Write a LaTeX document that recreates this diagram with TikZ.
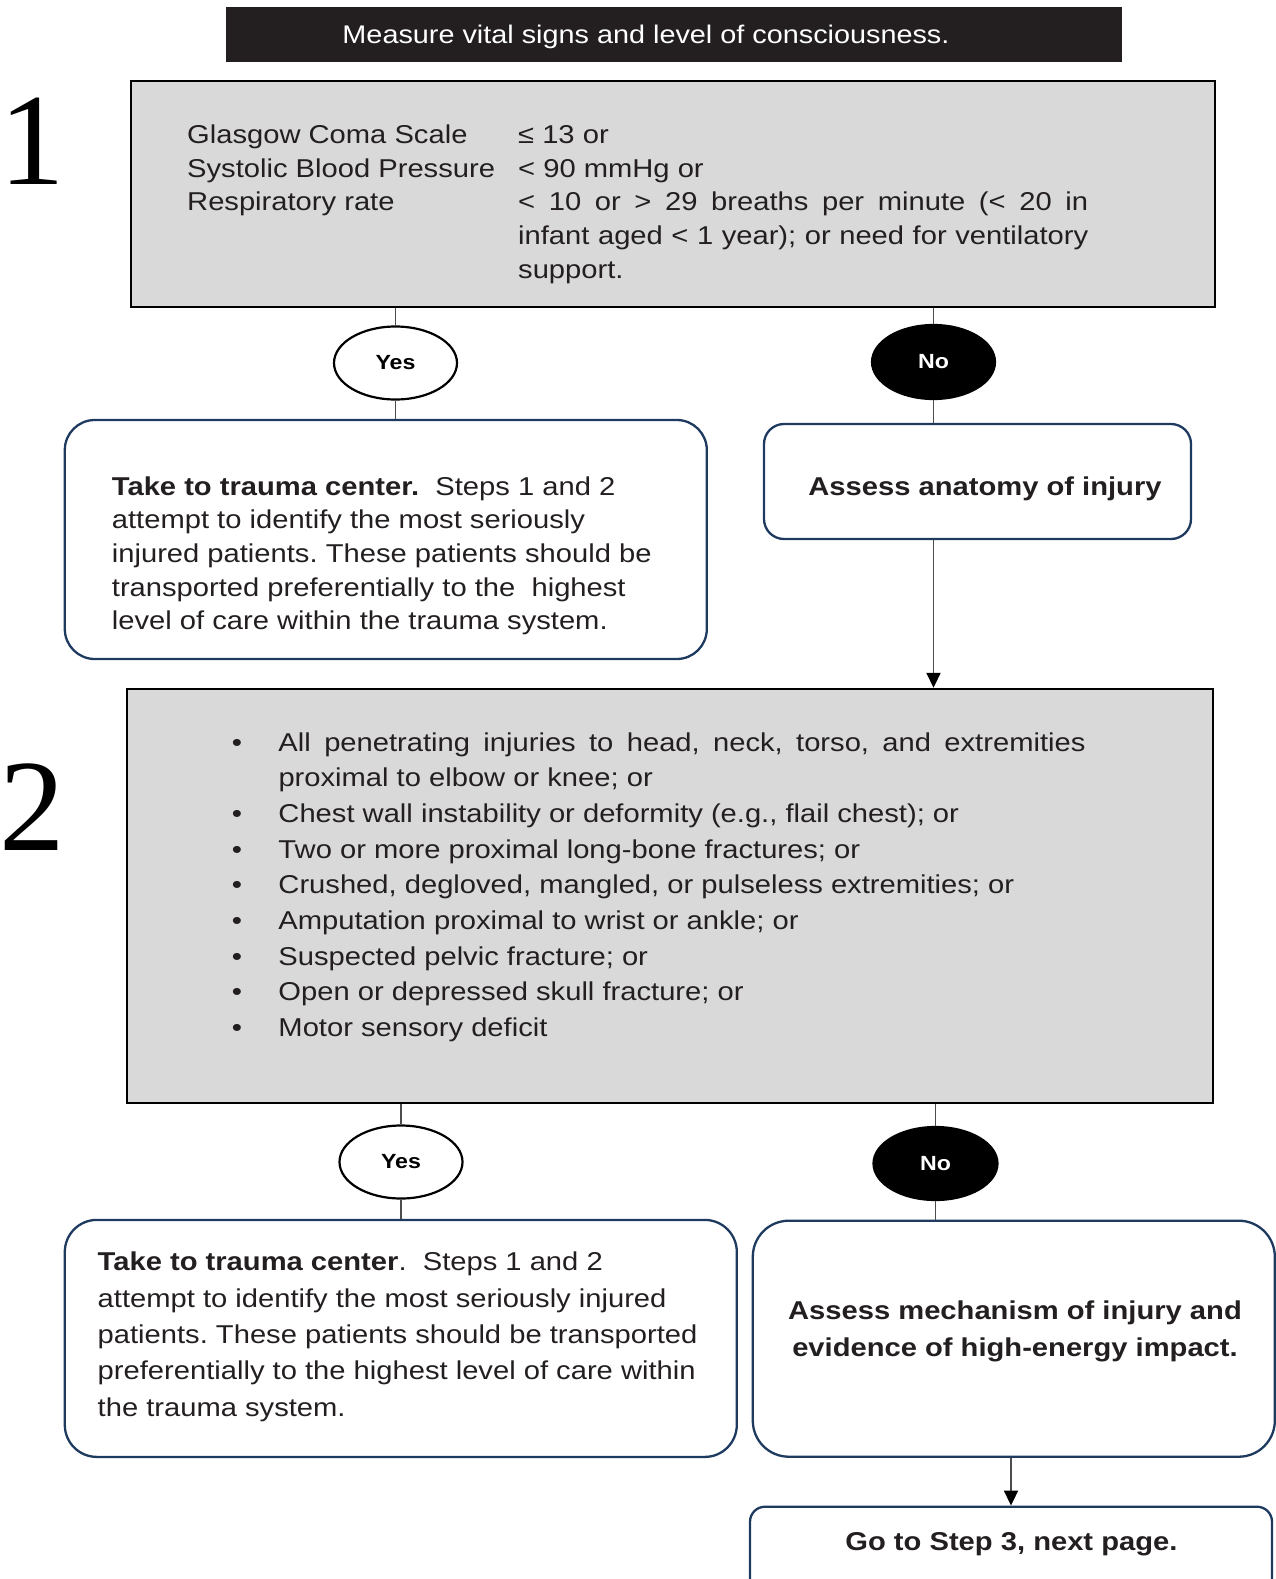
\documentclass[tikz,border=0pt]{standalone}
\usepackage{fontspec}
\setmainfont[FakeStretch=1.13]{Liberation Sans}
\newfontfamily\stepfont{Liberation Serif}
\usetikzlibrary{shapes.geometric,arrows.meta}
\definecolor{barblack}{HTML}{231F20}
\definecolor{critgrey}{HTML}{D9D9D9}
\definecolor{boxnavy}{HTML}{1F3A5F}
\definecolor{linkgrey}{HTML}{4D4D4D}
\definecolor{inkdark}{HTML}{231F20}
\frenchspacing
\newcommand{\leftrows}[1]{\begin{tabular}[t]{@{}l@{}}#1\end{tabular}}
\newcommand{\centrows}[1]{\begin{tabular}[t]{@{}c@{}}#1\end{tabular}}
\tikzset{
  headbar/.style={fill=barblack,inner sep=0pt,minimum width=896pt,minimum height=55pt},
  headtext/.style={text=white,inner sep=0pt,anchor=base,font=\fontsize{25.5}{30}\selectfont},
  critbox/.style={draw=black,fill=critgrey,line width=2.4pt,inner sep=0pt},
  bodytext/.style={text=inkdark,inner sep=0pt,anchor=base west,font=\fontsize{25.8}{33.7}\selectfont},
  listtext/.style={bodytext,font=\fontsize{25.8}{35.7}\selectfont},
  widetext/.style={bodytext,font=\fontsize{25.8}{36.4}\selectfont},
  boldtext/.style={bodytext,anchor=base,font=\fontsize{25.8}{36.7}\selectfont\bfseries},
  yes oval/.style={ellipse,draw=black,fill=white,line width=2.2pt,inner sep=0pt,
    minimum width=123pt,minimum height=73pt,font=\fontsize{20.5}{24}\selectfont\bfseries},
  no oval/.style={yes oval,fill=black,text=white},
  roundbox/.style={draw=boxnavy,line width=2.3pt,inner sep=0pt},
  link/.style={draw=linkgrey,line width=1.8pt},
  flow/.style={link,-{Triangle[length=15pt,width=14pt,color=black]}},
  stepnum/.style={inner sep=0pt,anchor=base,font=\fontsize{131}{131}\stepfont}
}
\begin{document}
\begin{tikzpicture}[x=1pt,y=-1pt]
  \useasboundingbox (0,0) rectangle (1276,1579);
  \clip (0,0) rectangle (1276,1579);
  % step 1
  \node[stepnum] (one) at (32.5,184.3) {1};
  \node[headbar] (head) at (674,34.5) {};
  \node[headtext] (headline) at (646,43.4) {Measure vital signs and level of consciousness.};
  \node[critbox,minimum width=1084pt,minimum height=226pt] (crit1) at (673,194) {};
  \node[bodytext] (vitals) at (187,143.5)
    {\leftrows{Glasgow Coma Scale\\Systolic Blood Pressure\\Respiratory rate}};
  \node[bodytext] (limits) at (518,143.5) {\leftrows{≤ 13 or\\< 90 mmHg or\\
    \makebox[570pt][s]{< 10 or > 29 breaths per minute (< 20 in}\\
    \makebox[570pt][s]{infant aged < 1 year); or need for ventilatory}\\
    support.}};
  \node[yes oval] (yes1) at (395.5,363) {Yes};
  \node[no oval,minimum height=74pt] (no1) at (933.5,362) {No};
  \node[roundbox,rounded corners=30pt,minimum width=642pt,minimum height=239pt] (take1) at (385.8,539.5) {};
  \node[bodytext] (take1text) at (111.7,495) {\leftrows{\textbf{Take to trauma center.}\ \ Steps 1 and 2\\
    attempt to identify the most seriously\\
    injured patients. These patients should be\\
    transported preferentially to the\ \ highest\\
    level of care within the trauma system.}};
  \node[roundbox,rounded corners=20pt,minimum width=427pt,minimum height=115pt] (anat) at (977.5,481.5) {};
  \node[boldtext] (anattext) at (985,495) {Assess anatomy of injury};
  % step 2
  \node[stepnum] (two) at (32.7,850) {2};
  \node[critbox,minimum width=1086pt,minimum height=414pt] (crit2) at (670,896) {};
  \node[listtext] (injuries) at (231.6,751) {\begin{tabular}[t]{@{}p{46.7pt}@{}l@{}}
    \textbullet & \makebox[807pt][s]{All penetrating injuries to head, neck, torso, and extremities}\\
      & proximal to elbow or knee; or\\
    \textbullet & Chest wall instability or deformity (e.g., flail chest); or\\
    \textbullet & Two or more proximal long-bone fractures; or\\
    \textbullet & Crushed, degloved, mangled, or pulseless extremities; or\\
    \textbullet & Amputation proximal to wrist or ankle; or\\
    \textbullet & Suspected pelvic fracture; or\\
    \textbullet & Open or depressed skull fracture; or\\
    \textbullet & Motor sensory deficit
  \end{tabular}};
  \node[yes oval] (yes2) at (401,1162) {Yes};
  \node[no oval,minimum width=124pt] (no2) at (935.5,1163.5) {No};
  \node[roundbox,rounded corners=32pt,minimum width=672pt,minimum height=237pt] (take2) at (400.8,1338.4) {};
  \node[widetext] (take2text) at (97.5,1270.7) {\leftrows{\textbf{Take to trauma center}.\ \ Steps 1 and 2\\
    attempt to identify the most seriously injured\\
    patients. These patients should be transported\\
    preferentially to the highest level of care within\\
    the trauma system.}};
  \node[roundbox,rounded corners=36pt,minimum width=522pt,minimum height=236pt] (mech) at (1013.8,1338.7) {};
  \node[boldtext] (mechtext) at (1015,1319.3)
    {\centrows{Assess mechanism of injury and\\evidence of high-energy impact.}};
  \node[roundbox,rounded corners=15pt,minimum width=522pt,minimum height=100pt] (go) at (1011,1556.7) {};
  \node[boldtext] (gotext) at (1011.4,1550) {Go to Step 3, next page.};
  % connectors
  \draw[link] (crit1.south -| yes1) -- (yes1.north) (yes1.south) -- (yes1 |- take1.north);
  \draw[link] (crit1.south -| no1) -- (no1.north) (no1.south) -- (no1 |- anat.north);
  \draw[flow] (anat.south -| no1) -- (crit2.north -| no1);
  \draw[link] (crit2.south -| yes2) -- (yes2.north) (yes2.south) -- (yes2 |- take2.north);
  \draw[link] (crit2.south -| no2) -- (no2.north) (no2.south) -- (no2 |- mech.north);
  \draw[flow] (go |- mech.south) -- (go.north);
\end{tikzpicture}
\end{document}
